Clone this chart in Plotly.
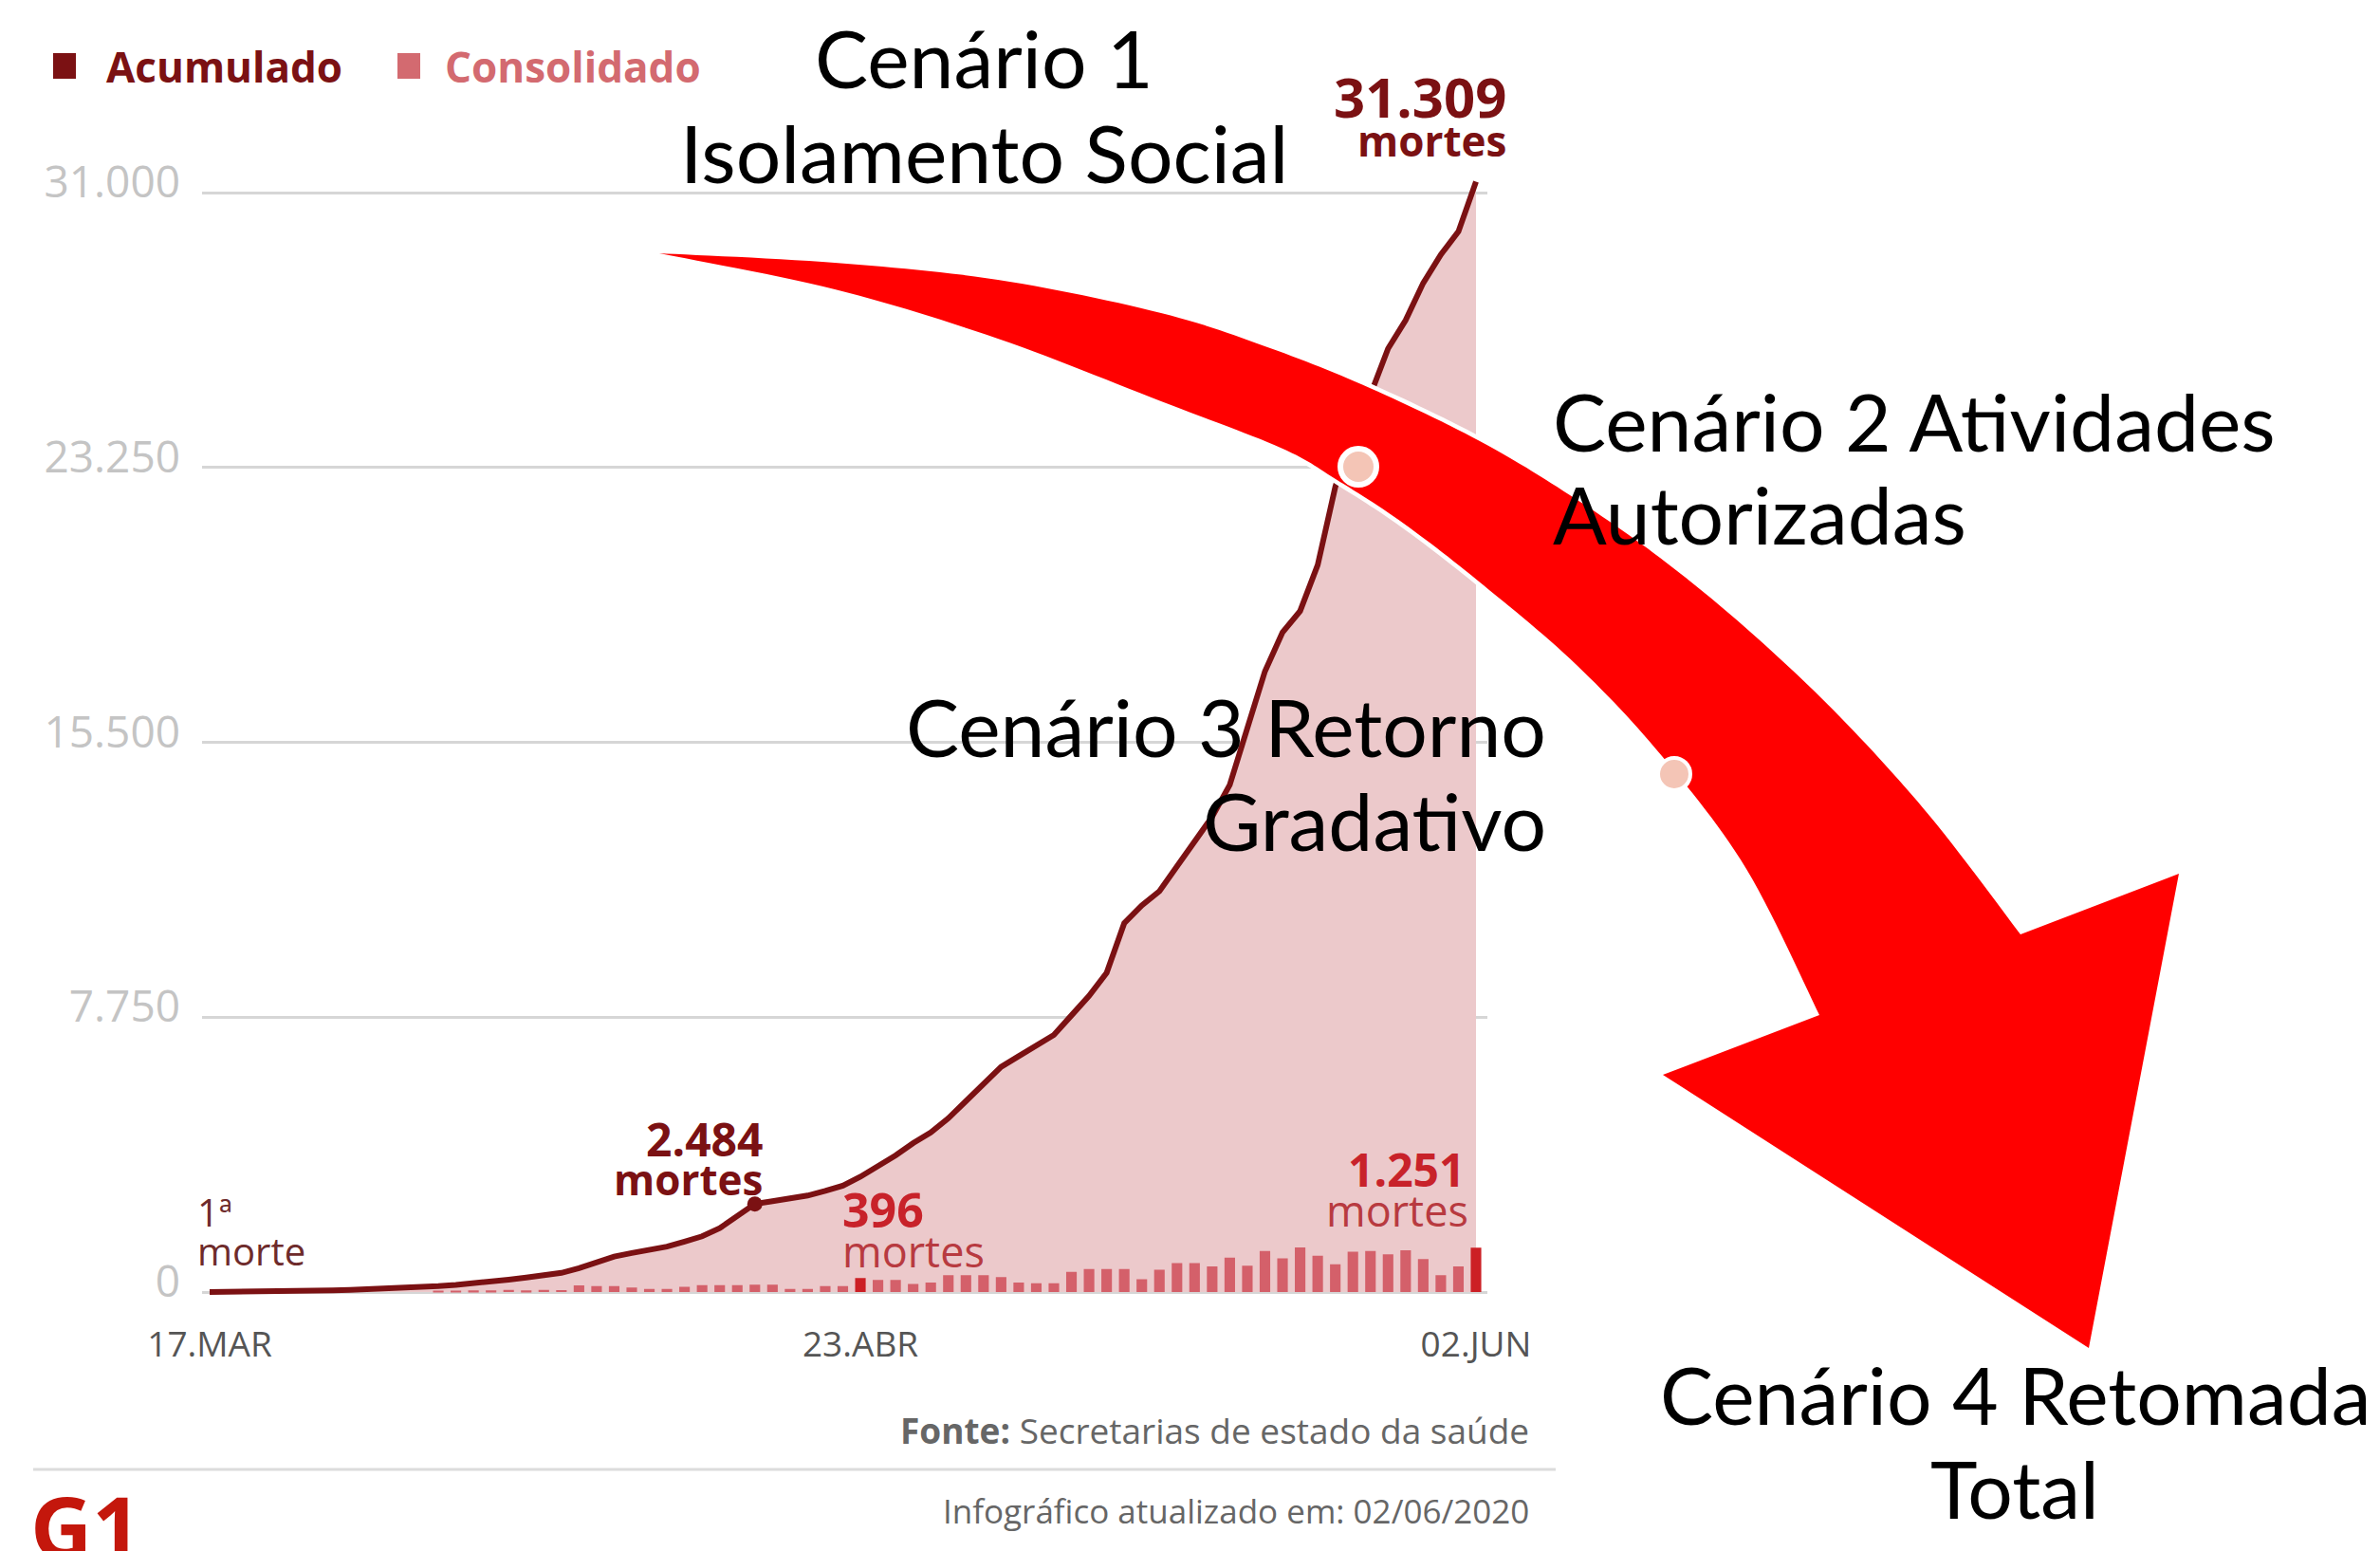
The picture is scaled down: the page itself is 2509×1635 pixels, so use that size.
import plotly.graph_objects as go

W, H = 2509, 1635

# ---------------- data ----------------
day_index = list(range(73))  # 17.MAR .. 02.JUN (chart positions)
acumulado = [1, 3, 7, 15, 22, 30, 40, 50, 60, 75,
             95, 115, 140, 165, 200, 240, 290, 350, 410, 470,
             540, 670, 850, 1000, 1100, 1180, 1280, 1420, 1570, 1800,
             2150, 2484, 2560, 2640, 2720, 2850, 3000, 3250, 3530, 3850,
             4200, 4500, 4900, 5400, 5900, 6350, 6650, 6950, 7250, 7800,
             8350, 9000, 10400, 10900, 11300, 12000, 12700, 13400, 14300, 15900,
             17500, 18600, 19200, 20500, 22700, 24300, 25300, 26600, 27400, 28450,
             29250, 29900, 31309]
bar_index = list(range(13, 73))
consolidado = [30, 40, 50, 45, 60, 50, 60, 55,
               190, 170, 170, 130, 90, 90, 150, 195, 195, 195, 205, 205, 90, 90, 170, 170,
               396,
               342, 342, 228, 266, 475, 475, 475, 418, 266, 247, 247, 570, 646, 646, 646,
               361, 627, 817, 817, 722, 969, 741, 1159, 950, 1254, 1026, 779, 1140, 1159,
               1064, 1178, 931, 475, 722, 1251]
highlight_days = [37, 72]
marker_day = 31
y_ticks = [0, 7750, 15500, 23250, 31000]
y_ticktext = ["0", "7.750", "15.500", "23.250", "31.000"]
x_ticks = [0, 37, 72]
x_ticktext = ["17.MAR", "23.ABR", "02.JUN"]

# ---------------- colours ----------------
C_LINE = "#7b1113"
C_FILL = "#ecc9cb"
C_BAR = "#d4606a"
C_BAR_HI = "#cc1f25"
C_RED_TXT = "#c8222a"
C_ARROW = "#ff0000"

def X(px):
    return px / W

def Y(py):
    return 1 - py / H

# axis placement in pixels
x_left_px, x_right_px = 213, 1568
x_first_px, x_last_px = 221, 1556
px_per_day = (x_last_px - x_first_px) / 72
xr = [0 - (x_first_px - x_left_px) / px_per_day, 72 + (x_right_px - x_last_px) / px_per_day]
y0_px, y31_px = 1362, 203
px_per_unit = (y0_px - y31_px) / 31000
y_top_val, y_bot_val = 33500, -600
y_dom = [Y(y0_px - y_bot_val * px_per_unit), Y(y0_px - y_top_val * px_per_unit)]

bar_colors = [C_BAR_HI if d in highlight_days else C_BAR for d in bar_index]

fig = go.Figure()
# area on the base axes (drawn first)
fig.add_trace(go.Scatter(x=day_index, y=acumulado, mode="lines", line=dict(width=0, color=C_FILL),
                         fill="tozeroy", fillcolor=C_FILL, hoverinfo="skip", xaxis="x", yaxis="y"))
# bars and line on overlay axes (drawn above the area)
fig.add_trace(go.Bar(x=bar_index, y=consolidado, marker=dict(color=bar_colors, line=dict(width=0)),
                     width=0.6, xaxis="x2", yaxis="y2"))
fig.add_trace(go.Scatter(x=day_index, y=acumulado, mode="lines",
                         line=dict(color=C_LINE, width=6, shape="linear"), xaxis="x2", yaxis="y2"))
fig.add_trace(go.Scatter(x=[marker_day], y=[acumulado[marker_day]], mode="markers",
                         marker=dict(color=C_LINE, size=16), xaxis="x2", yaxis="y2"))

# ---------------- arrow ----------------
upper = [(695, 267), (880, 277), (1052, 295), (1224, 330), (1339, 367), (1444, 409),
         (1560, 465), (1655, 522), (1750, 588), (1845, 666), (1940, 756), (2035, 861), (2130, 985)]
lower = [(695, 267), (880, 305), (1052, 357), (1224, 423), (1350, 472), (1408, 505),
         (1480, 552), (1564, 617), (1662, 701), (1752, 797), (1841, 916), (1918, 1070)]
head = [(2297, 921), (2202, 1421), (1753, 1133)]

def catmull(pts, n=14):
    out = []
    for i in range(len(pts) - 1):
        p0 = pts[i - 1] if i > 0 else pts[i]
        p1 = pts[i]
        p2 = pts[i + 1]
        p3 = pts[i + 2] if i + 2 < len(pts) else pts[i + 1]
        for k in range(n):
            t = k / n
            t2, t3 = t * t, t * t * t
            xx = 0.5 * ((2 * p1[0]) + (-p0[0] + p2[0]) * t + (2 * p0[0] - 5 * p1[0] + 4 * p2[0] - p3[0]) * t2 + (-p0[0] + 3 * p1[0] - 3 * p2[0] + p3[0]) * t3)
            yy = 0.5 * ((2 * p1[1]) + (-p0[1] + p2[1]) * t + (2 * p0[1] - 5 * p1[1] + 4 * p2[1] - p3[1]) * t2 + (-p0[1] + 3 * p1[1] - 3 * p2[1] + p3[1]) * t3)
            out.append((xx, yy))
    out.append(pts[-1])
    return out

poly = catmull(upper) + head + list(reversed(catmull(lower)))
path = "M " + " L ".join(f"{X(a):.5f},{Y(b):.5f}" for a, b in poly) + " Z"

shapes = [
    # white halo under the arrow
    dict(type="path", path=path, xref="paper", yref="paper", fillcolor="white",
         line=dict(color="white", width=9), layer="above"),
    dict(type="path", path=path, xref="paper", yref="paper", fillcolor=C_ARROW,
         line=dict(width=0), layer="above"),
]

def circle(cx, cy, r, fill, lw):
    return dict(type="circle", xref="paper", yref="paper", x0=X(cx - r), x1=X(cx + r),
                y0=Y(cy + r), y1=Y(cy - r), fillcolor=fill, line=dict(color="white", width=lw),
                layer="above")

shapes.append(circle(1432, 492, 19, "#f4c5b6", 6))
shapes.append(circle(1765, 816, 17, "#f4c5b6", 4))
# legend squares
shapes.append(dict(type="rect", xref="paper", yref="paper", x0=X(56), x1=X(80), y0=Y(83), y1=Y(56),
                   fillcolor=C_LINE, line=dict(width=0)))
shapes.append(dict(type="rect", xref="paper", yref="paper", x0=X(419), x1=X(443), y0=Y(83), y1=Y(56),
                   fillcolor="#d36a70", line=dict(width=0)))
# divider
shapes.append(dict(type="line", xref="paper", yref="paper", x0=X(35), x1=X(1640), y0=Y(1549), y1=Y(1549),
                   line=dict(color="#dcdcdc", width=3)))

ann = []

def txt(t, x, y, size, color, xa="left", family="Open Sans", ya="middle"):
    ann.append(dict(text=t, x=X(x), y=Y(y), xref="paper", yref="paper", xanchor=xa, yanchor=ya,
                    showarrow=False, font=dict(family=family, size=size, color=color)))

# legend
txt("<b>Acumulado</b>", 110, 70, 44, C_LINE)
txt("<b>Consolidado</b>", 467, 70, 44, "#d36a70")
# chart labels
txt("<b>31.309</b>", 1590, 101, 58, C_LINE, xa="right")
txt("<b>mortes</b>", 1590, 148, 44, C_LINE, xa="right")
txt("<b>2.484</b>", 806, 1200, 48, C_LINE, xa="right")
txt("<b>mortes</b>", 806, 1243, 44, C_LINE, xa="right")
txt("1ª", 206, 1277, 40, "#6e2b2b")
txt("morte", 206, 1318, 40, "#6e2b2b")
txt("<b>396</b>", 886, 1275, 50, C_RED_TXT)
txt("mortes", 886, 1318, 45, "#b83a40")
txt("<b>1.251</b>", 1546, 1232, 48, C_RED_TXT, xa="right")
txt("mortes", 1550, 1275, 45, "#b83a40", xa="right")
txt("<b>Fonte:</b> Secretarias de estado da saúde", 1614, 1507, 37, "#666666", xa="right")
txt("Infográfico atualizado em: 02/06/2020", 1614, 1592, 35, "#666666", xa="right")
ann.append(dict(text="<b>G1</b>", x=X(30), y=Y(1545), xref="paper", yref="paper",
                xanchor="left", yanchor="top", showarrow=False,
                font=dict(family="Open Sans", size=90, color="#c4170c", weight=900)))
# scenario texts
CF = "Lato"
CS = 84
txt("Cenário 1", 1037, 61, CS, "black", xa="center", family=CF)
txt("Isolamento Social", 1037, 160, CS, "black", xa="center", family=CF)
txt("Cenário 2 Atividades", 1635, 443, CS, "black", family=CF)
txt("Autorizadas", 1635, 541, CS, "black", family=CF)
txt("Cenário 3 Retorno", 1632, 765, CS, "black", xa="right", family=CF)
txt("Gradativo", 1632, 864, CS, "black", xa="right", family=CF)
txt("Cenário 4 Retomada", 2124, 1469, CS, "black", xa="center", family=CF)
txt("Total", 2124, 1568, CS, "black", xa="center", family=CF)

x_dom = [X(x_left_px), X(x_right_px)]
fig.update_layout(
    width=W, height=H, margin=dict(l=0, r=0, t=0, b=0, autoexpand=False),
    paper_bgcolor="white", plot_bgcolor="white", showlegend=False,
    xaxis=dict(domain=x_dom, range=xr, showgrid=False, zeroline=False, automargin=False,
               showline=False, tickmode="array", tickvals=x_ticks, ticktext=x_ticktext,
               ticks="", ticklabelstandoff=8,
               tickfont=dict(family="Open Sans", size=37, color="#555555")),
    yaxis=dict(domain=y_dom, range=[y_bot_val, y_top_val], showgrid=True, gridcolor="#d6d6d6",
               gridwidth=3, zeroline=False, showline=False, tickmode="array", tickvals=y_ticks,
               ticktext=y_ticktext, ticks="", ticklabelstandoff=22, ticklabelshift=-11,
               automargin=False,
               tickfont=dict(family="Open Sans", size=46, color="#c4c4c4")),
    xaxis2=dict(domain=x_dom, range=xr, overlaying="x", visible=False, automargin=False,
                anchor="y2"),
    yaxis2=dict(domain=y_dom, range=[y_bot_val, y_top_val], overlaying="y", visible=False,
                automargin=False, anchor="x2"),
    shapes=shapes, annotations=ann,
)

fig.write_html("out.html")
